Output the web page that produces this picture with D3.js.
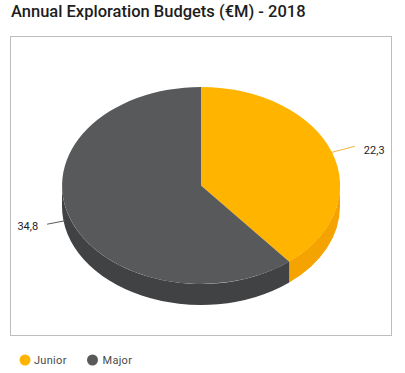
<!DOCTYPE html>
<html>
<head>
<meta charset="utf-8">
<script src="https://cdn.jsdelivr.net/npm/d3@7"></script>
<style>
  html, body { margin: 0; padding: 0; background: #fff; }
  text { font-family: Roboto, sans-serif; }
</style>
</head>
<body>
<div id="viewport"></div>
<script>
const categories = ["Junior", "Major"];
const values = [22.3, 34.8];
const valueLabels = ["22,3", "34,8"];
const topColors = ["#ffb500", "#58595b"];
const sideColors = ["#f5a300", "#414244"];

const width = 405, height = 373;
const cx = 201, cy = 185.5, rx = 139, ry = 98.5, depth = 21;

const svg = d3.select("#viewport").append("svg")
  .attr("width", width).attr("height", height)
  .style("display", "block");

svg.append("text")
  .attr("x", 11).attr("y", 17)
  .attr("font-size", 16.5).attr("font-weight", 500)
  .attr("fill", "#1d1d1d")
  .text("Annual Exploration Budgets (€M) - 2018");

svg.append("rect")
  .attr("x", 10.5).attr("y", 36.5)
  .attr("width", 381).attr("height", 299)
  .attr("fill", "#fff").attr("stroke", "#bdbdbd");

const pie = d3.pie().sort(null);
const slices = pie(values);

// unit circle arc, squashed to the ellipse with a transform
const arc = d3.arc().innerRadius(0).outerRadius(1);

const rim = a => [cx + rx * Math.sin(a), cy - ry * Math.cos(a)];

// front wall of a slice, only the part between 90 and 270 degrees shows
function wall(d) {
  const a0 = Math.max(d.startAngle, Math.PI / 2);
  const a1 = Math.min(d.endAngle, 3 * Math.PI / 2);
  if (a1 <= a0) return null;
  const p0 = rim(a0), p1 = rim(a1);
  return `M${p0}A${rx},${ry} 0 0 1 ${p1}L${p1[0]},${p1[1] + depth}` +
    `A${rx},${ry} 0 0 0 ${p0[0]},${p0[1] + depth}Z`;
}

svg.append("g").selectAll("path")
  .data(slices)
  .enter().append("path")
    .attr("d", wall)
    .attr("fill", (d, i) => sideColors[i]);

svg.append("g")
    .attr("transform", `translate(${cx},${cy}) scale(${rx},${ry})`)
  .selectAll("path")
  .data(slices)
  .enter().append("path")
    .attr("d", arc)
    .attr("fill", (d, i) => topColors[i]);

// leader lines and value labels
const mid = d => (d.startAngle + d.endAngle) / 2;
const label = svg.append("g").selectAll("g")
  .data(slices)
  .enter().append("g");

label.append("path")
  .attr("fill", "none")
  .attr("stroke", (d, i) => i === 0 ? "#f2b63a" : "#58595b")
  .attr("d", (d, i) => {
    const p = rim(mid(d));
    if (i === 0) {
      return `M${p}Q${p[0] + 12},${p[1] - 3} ${p[0] + 23},${p[1] - 6}`;
    }
    // left label sits on the wall, the line drops slightly going outward
    const s = [p[0] - 5, p[1] + 2];
    return `M${s}L${s[0] - 18},${s[1] + 3.5}`;
  });

label.append("text")
  .attr("x", d => rim(mid(d))[0] + (Math.sin(mid(d)) > 0 ? 32 : -32))
  .attr("y", (d, i) => rim(mid(d))[1] + (i === 0 ? 2 : 11))
  .attr("text-anchor", d => Math.sin(mid(d)) > 0 ? "start" : "end")
  .attr("font-size", 11)
  .attr("fill", "#1d1d1d")
  .text((d, i) => valueLabels[i]);

// legend
const legendX = d3.scalePoint().domain(categories).range([25, 92.5]);
const legend = svg.append("g").selectAll("g")
  .data(categories)
  .enter().append("g")
    .attr("transform", d => `translate(${legendX(d)},360)`);

legend.append("circle")
  .attr("r", 5.5)
  .attr("fill", (d, i) => topColors[i]);

legend.append("text")
  .attr("x", (d, i) => i === 0 ? 9 : 10).attr("y", 4)
  .attr("font-size", 11).attr("letter-spacing", 0.3)
  .attr("fill", "#4a4a4a")
  .text(d => d);
</script>
</body>
</html>
